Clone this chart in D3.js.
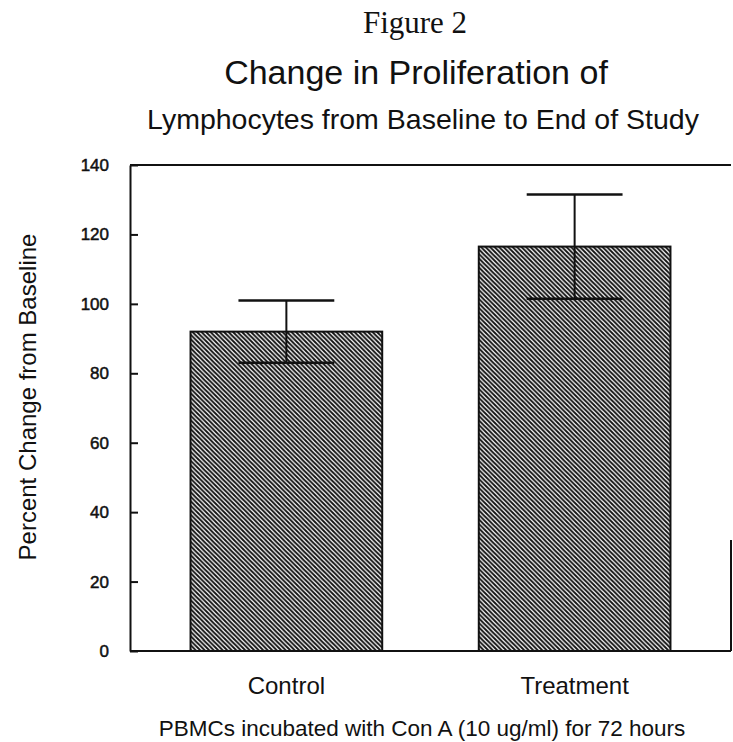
<!DOCTYPE html>
<html>
<head>
<meta charset="utf-8">
<script src="https://cdn.jsdelivr.net/npm/d3@7"></script>
<style>
  body { margin: 0; background: #fff; }
  text { font-family: "Liberation Sans", Arial, sans-serif; fill: #111; }
</style>
</head>
<body>
<script>
// data
const groups = ['Control', 'Treatment']
const means = [92, 116.5]
const errors = [9, 15]
const yTicks = [0, 20, 40, 60, 80, 100, 120, 140]

const W = 733, H = 742
const plotLeft = 130, plotRight = 731, plotTop = 165, plotBottom = 651

const svg = d3.select('body').append('svg')
    .attr('width', W)
    .attr('height', H)

const x = d3.scaleBand()
    .domain(groups)
    .range([plotLeft, plotRight])
    .paddingInner(0.335)
    .paddingOuter(0.21)

const y = d3.scaleLinear()
    .domain([0, 140])
    .range([plotBottom, plotTop])

// hatch fill, lines running top-left to bottom-right
const pat = svg.append('defs').append('pattern')
    .attr('id', 'hatch')
    .attr('patternUnits', 'userSpaceOnUse')
    .attr('width', 4.5)
    .attr('height', 4.5)
pat.append('rect').attr('width', 4.5).attr('height', 4.5).attr('fill', '#fff')
pat.append('path')
    .attr('d', 'M-1,-1 L5.5,5.5 M-1,3.5 L1,5.5 M3.5,-1 L5.5,1')
    .attr('stroke', '#111')
    .attr('stroke-width', 1.9)

// titles
svg.append('text')
    .attr('x', 415).attr('y', 33)
    .attr('text-anchor', 'middle')
    .style('font-family', '"Liberation Serif", "Times New Roman", serif')
    .style('font-size', '31px')
    .text('Figure 2')

svg.append('text')
    .attr('x', 416).attr('y', 84)
    .attr('text-anchor', 'middle')
    .style('font-size', '34px')
    .text('Change in Proliferation of')

svg.append('text')
    .attr('x', 423).attr('y', 129)
    .attr('text-anchor', 'middle')
    .style('font-size', '28.5px')
    .text('Lymphocytes from Baseline to End of Study')

// bars
svg.selectAll('.bar')
    .data(groups)
    .enter().append('rect')
    .attr('class', 'bar')
    .attr('x', d => x(d))
    .attr('y', (d, i) => y(means[i]))
    .attr('width', x.bandwidth())
    .attr('height', (d, i) => y(0) - y(means[i]))
    .attr('fill', 'url(#hatch)')
    .attr('stroke', '#111')
    .attr('stroke-width', 2)

// error bars
const capW = x.bandwidth() * 0.5
groups.forEach(function (g, i) {
    const cx = x(g) + x.bandwidth() / 2
    const hi = y(means[i] + errors[i])
    const lo = y(means[i] - errors[i])
    svg.append('line')
        .attr('x1', cx).attr('x2', cx)
        .attr('y1', hi).attr('y2', lo)
        .attr('stroke', '#111').attr('stroke-width', 2)
    svg.append('line')
        .attr('x1', cx - capW / 2).attr('x2', cx + capW / 2)
        .attr('y1', hi).attr('y2', hi)
        .attr('stroke', '#111').attr('stroke-width', 2.5)
    svg.append('line')
        .attr('x1', cx - capW / 2).attr('x2', cx + capW / 2)
        .attr('y1', lo).attr('y2', lo)
        .attr('stroke', '#111').attr('stroke-width', 2.5)
})

// frame
const frame = svg.append('g')
    .attr('stroke', '#111')
    .attr('stroke-width', 2)
frame.append('line').attr('x1', plotLeft).attr('x2', plotRight).attr('y1', plotTop).attr('y2', plotTop)
frame.append('line').attr('x1', plotLeft).attr('x2', plotRight).attr('y1', plotBottom).attr('y2', plotBottom)
frame.append('line').attr('x1', plotRight).attr('x2', plotRight).attr('y1', 540).attr('y2', plotBottom)

// y axis, ticks pointing inward
const yAxis = svg.append('g')
    .attr('transform', 'translate(' + plotLeft + ',0)')
    .call(d3.axisLeft(y).tickValues(yTicks).tickSizeInner(-8).tickSizeOuter(0).tickPadding(21))
yAxis.select('.domain').attr('stroke', '#111').attr('stroke-width', 2)
yAxis.selectAll('.tick line').attr('stroke', '#111').attr('stroke-width', 2)
yAxis.selectAll('.tick text')
    .style('font-family', '"Liberation Sans", Arial, sans-serif')
    .style('font-size', '17px')
    .attr('fill', '#111')
    .attr('stroke', '#111')
    .attr('stroke-width', 0.5)

// x labels
const xAxis = svg.append('g')
    .attr('transform', 'translate(0,' + plotBottom + ')')
    .call(d3.axisBottom(x).tickSize(0).tickPadding(26))
xAxis.select('.domain').remove()
xAxis.selectAll('.tick text')
    .style('font-family', '"Liberation Sans", Arial, sans-serif')
    .style('font-size', '24px')
    .attr('fill', '#111')

svg.append('text')
    .attr('x', 422).attr('y', 736)
    .attr('text-anchor', 'middle')
    .style('font-size', '22.5px')
    .text('PBMCs incubated with Con A (10 ug/ml) for 72 hours')

svg.append('text')
    .attr('transform', 'translate(36,397) rotate(-90)')
    .attr('text-anchor', 'middle')
    .style('font-size', '24px')
    .text('Percent Change from Baseline')
</script>
</body>
</html>
